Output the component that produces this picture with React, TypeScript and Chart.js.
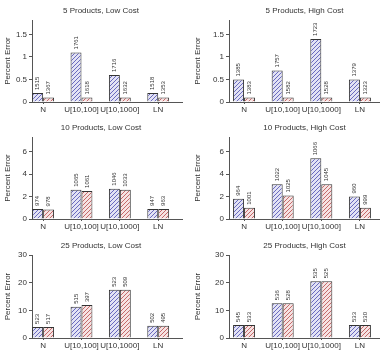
import React, { useEffect, useRef } from 'react';
import { Chart, registerables } from 'chart.js';
Chart.register(...registerables);

const FONT = "'Liberation Sans', Arial, sans-serif";

const categories = ['N', 'U[10,100]', 'U[10,1000]', 'LN'];

// Percent error values (blue = first series, red = second series)
const blue5Low = [0.2, 1.1, 0.6, 0.2];
const red5Low = [0.1, 0.1, 0.1, 0.1];
const blue5High = [0.5, 0.7, 1.4, 0.5];
const red5High = [0.1, 0.1, 0.1, 0.1];
const blue10Low = [0.9, 2.6, 2.7, 0.9];
const red10Low = [0.85, 2.5, 2.6, 0.9];
const blue10High = [1.8, 3.1, 5.4, 2.0];
const red10High = [1.0, 2.1, 3.1, 1.0];
const blue25Low = [4.0, 11.3, 17.4, 4.4];
const red25Low = [4.0, 11.9, 17.4, 4.4];
const blue25High = [4.7, 12.6, 20.5, 4.7];
const red25High = [4.7, 12.6, 20.5, 4.7];

// Counts printed above the bars
const blueN5Low = ['1515', '1761', '1716', '1518'];
const redN5Low = ['1367', '1618', '1632', '1353'];
const blueN5High = ['1385', '1757', '1723', '1379'];
const redN5High = ['1383', '1582', '1528', '1323'];
const blueN10Low = ['974', '1065', '1046', '947'];
const redN10Low = ['978', '1061', '1033', '963'];
const blueN10High = ['964', '1022', '1066', '960'];
const redN10High = ['1001', '1025', '1045', '999'];
const blueN25Low = ['523', '515', '523', '502'];
const redN25Low = ['517', '397', '509', '495'];
const blueN25High = ['545', '536', '535', '533'];
const redN25High = ['533', '528', '525', '530'];

// Y tick labels per row
const yTicks5 = [0, 0.5, 1, 1.5];
const yTicks10 = [0, 2, 4, 6];
const yTicks25 = [0, 10, 20, 30];
const yMax5 = 1.82;
const yMax10 = 7.3;
const yMax25 = 30;

const titles = [
  '5 Products, Low Cost', '5 Products, High Cost',
  '10 Products, Low Cost', '10 Products, High Cost',
  '25 Products, Low Cost', '25 Products, High Cost',
];

const colGeo = [
  { x: 0, w: 190, left: 32, right: 182, xMin: 0.71, xMax: 4.62, titleDx: -6 },
  { x: 190, w: 190, left: 39, right: 190, xMin: 0.61, xMax: 4.52, titleDx: 0 },
];
const rowGeo = [
  { y: 0, h: 120, top: 20, bottom: 102 },
  { y: 120, h: 120, top: 17, bottom: 99 },
  { y: 240, h: 122, top: 15, bottom: 98 },
];

const panels = [
  { blue: blue5Low, red: red5Low, bN: blueN5Low, rN: redN5Low, ticks: yTicks5, yMax: yMax5 },
  { blue: blue5High, red: red5High, bN: blueN5High, rN: redN5High, ticks: yTicks5, yMax: yMax5 },
  { blue: blue10Low, red: red10Low, bN: blueN10Low, rN: redN10Low, ticks: yTicks10, yMax: yMax10 },
  { blue: blue10High, red: red10High, bN: blueN10High, rN: redN10High, ticks: yTicks10, yMax: yMax10 },
  { blue: blue25Low, red: red25Low, bN: blueN25Low, rN: redN25Low, ticks: yTicks25, yMax: yMax25 },
  { blue: blue25High, red: red25High, bN: blueN25High, rN: redN25High, ticks: yTicks25, yMax: yMax25 },
];

function hatch(bg: string, fg: string) {
  const c = document.createElement('canvas');
  c.width = 4;
  c.height = 4;
  const x = c.getContext('2d')!;
  x.fillStyle = bg;
  x.fillRect(0, 0, 4, 4);
  x.strokeStyle = fg;
  x.lineWidth = 1;
  x.beginPath();
  x.moveTo(0, 4); x.lineTo(4, 0);
  x.moveTo(-1, 1); x.lineTo(1, -1);
  x.moveTo(3, 5); x.lineTo(5, 3);
  x.stroke();
  return x.createPattern(c, 'repeat')!;
}

function Panel({ idx }: { idx: number }) {
  const ref = useRef<HTMLCanvasElement>(null);
  const cg = colGeo[idx % 2];
  const rg = rowGeo[Math.floor(idx / 2)];
  const p = panels[idx];
  useEffect(() => {
    const canvas = ref.current!;
    const bluePat = hatch('#e2e2f4', '#6a6abf');
    const redPat = hatch('#f6e2e2', '#c46a6a');
    const countLabels = [p.bN, p.rN];
    const labelPlugin = {
      id: 'barLabels',
      afterDatasetsDraw(chart: any) {
        const ctx = chart.ctx;
        ctx.save();
        ctx.font = `6px ${FONT}`;
        ctx.fillStyle = '#333';
        ctx.textAlign = 'left';
        ctx.textBaseline = 'middle';
        chart.data.datasets.forEach((_: any, di: number) => {
          const meta = chart.getDatasetMeta(di);
          meta.data.forEach((el: any, j: number) => {
            ctx.save();
            ctx.translate(el.x, el.y - 3);
            ctx.rotate(-Math.PI / 2);
            ctx.fillText(countLabels[di][j], 0, 0);
            ctx.restore();
          });
        });
        ctx.restore();
      },
    };
    const titlePlugin = {
      id: 'panelTitle',
      afterDraw(chart: any) {
        const ctx = chart.ctx;
        const ca = chart.chartArea;
        ctx.save();
        ctx.font = `8px ${FONT}`;
        ctx.fillStyle = '#333';
        ctx.textAlign = 'center';
        ctx.textBaseline = 'middle';
        ctx.fillText(titles[idx], (ca.left + ca.right) / 2 + cg.titleDx, ca.top - 9.5);
        ctx.restore();
      },
    };
    const chart = new Chart(canvas, {
      type: 'bar',
      data: {
        datasets: [
          { data: p.blue.map((v, i) => ({ x: i + 1, y: v })), backgroundColor: bluePat, borderColor: '#333', borderWidth: 1 },
          { data: p.red.map((v, i) => ({ x: i + 1, y: v })), backgroundColor: redPat, borderColor: '#333', borderWidth: 1 },
        ],
      } as any,
      options: {
        responsive: false,
        animation: false,
        events: [],
        layout: { padding: { top: rg.top, right: cg.w - cg.right, left: 0, bottom: 0 } },
        plugins: { legend: { display: false }, tooltip: { enabled: false }, title: { display: false } },
        datasets: { bar: { categoryPercentage: 0.57, barPercentage: 1, grouped: true } },
        scales: {
          x: {
            type: 'linear',
            offset: false,
            min: cg.xMin,
            max: cg.xMax,
            afterBuildTicks: (s: any) => { s.ticks = categories.map((_, i) => ({ value: i + 1 })); },
            afterFit: (s: any) => { s.height = rg.h - rg.bottom; },
            ticks: {
              callback: (v: any) => categories[Math.round(v) - 1] ?? '',
              autoSkip: false, maxRotation: 0, minRotation: 0,
              font: { family: FONT, size: 8 }, color: '#333', padding: 1,
            },
            grid: { display: true, offset: false, drawOnChartArea: false, drawTicks: true, tickLength: 2, color: '#555' },
            border: { display: true, color: '#555' },
          },
          y: {
            type: 'linear',
            min: 0,
            max: p.yMax,
            afterBuildTicks: (s: any) => { s.ticks = p.ticks.map((v) => ({ value: v })); },
            afterFit: (s: any) => { s.width = cg.left; },
            ticks: {
              callback: (v: any) => String(v),
              font: { family: FONT, size: 8 }, color: '#333', padding: 2,
            },
            grid: { display: true, drawOnChartArea: false, drawTicks: true, tickLength: 3, color: '#555' },
            border: { display: true, color: '#555' },
            title: { display: true, text: 'Percent Error', font: { family: FONT, size: 8 }, color: '#333', padding: { top: 3, bottom: 0 } },
          },
        },
      } as any,
      plugins: [labelPlugin, titlePlugin],
    });
    return () => chart.destroy();
  }, []);
  return (
    <canvas
      ref={ref}
      width={cg.w}
      height={rg.h}
      style={{ position: 'absolute', left: cg.x, top: rg.y, width: cg.w, height: rg.h }}
    />
  );
}

export default function App() {
  return (
    <div style={{ position: 'absolute', left: 0, top: 0, width: 380, height: 362, background: '#fff', overflow: 'hidden' }}>
      {panels.map((_, i) => (
        <Panel key={i} idx={i} />
      ))}
    </div>
  );
}
